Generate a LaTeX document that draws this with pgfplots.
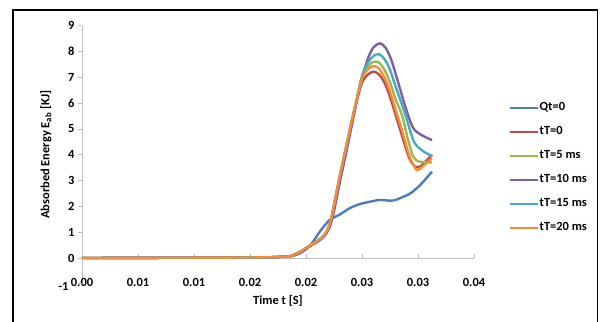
\documentclass[border=0pt]{standalone}
\usepackage{pgfplots}
\pgfplotsset{compat=1.18}
\usepackage{fontspec}
\setmainfont{Carlito}

\definecolor{cQ}{HTML}{4A7EBB}
\definecolor{cR}{HTML}{BE4B48}
\definecolor{cG}{HTML}{98B954}
\definecolor{cP}{HTML}{7D60A0}
\definecolor{cC}{HTML}{46AAC5}
\definecolor{cO}{HTML}{F68C36}
\definecolor{axgray}{HTML}{BFBFBF}

\begin{document}
\begin{tikzpicture}
\useasboundingbox (-82bp,-38.2bp) rectangle (521bp,283.8bp);
\begin{scope}
  \clip (-82bp,-38.2bp) rectangle (521bp,283.8bp);
  \draw[line width=1.5bp] (-69bp,-60bp) rectangle (515.7bp,273.8bp);
\end{scope}
\begin{axis}[
  at={(0,0)}, anchor=south west,
  scale only axis, width=392bp, height=258bp,
  xmin=0, xmax=0.035, ymin=-1, ymax=9,
  axis x line=middle, axis y line=left,
  hide obscured x ticks=false, hide obscured y ticks=false,
  axis line style={-, draw=axgray, line width=0.8bp},
  tick style={draw=axgray, line width=0.8bp},
  tick align=outside, major tick length=4bp,
  x tick style={yshift=4bp},
  scaled x ticks=false,
  xtick={0,0.005,0.01,0.015,0.02,0.025,0.03,0.035},
  xticklabels={0.00,0.01,0.01,0.02,0.02,0.03,0.03,0.04},
  ytick={0,1,2,3,4,5,6,7,8,9},
  yticklabels={0,1,2,3,4,5,6,7,8,9},
  extra y ticks={-1},
  extra y tick labels={-1},
  extra y tick style={yticklabel style={xshift=-6bp, yshift=-3bp}},
  tick label style={font=\bfseries\fontsize{12.5}{14}\selectfont},
  xticklabel style={yshift=-13bp},
  xlabel={Time t [S]},
  ylabel={Absorbed Energy E\textsubscript{ab} [KJ]},
  label style={font=\bfseries\fontsize{12.5}{14}\selectfont},
  xlabel style={at={(axis description cs:0.5,-0.066)}, anchor=center},
  ylabel style={at={(axis description cs:-0.092,0.5)}, anchor=center, rotate=0},
  every axis plot/.append style={line width=2.4bp, smooth, tension=0.5, no markers},
  legend style={at={(axis description cs:1.087,0.449)}, anchor=west,
    draw=none, fill=none, inner sep=0pt, row sep=10bp,
    font=\bfseries\fontsize{12.5}{14}\selectfont,
    nodes={inner sep=1bp, text height=9bp, text depth=3bp}},
  legend cell align=left,
  legend image code/.code={\draw[#1] (0bp,0bp) -- (28bp,0bp);},
  clip=false,
]
% Qt=0
\addplot[cQ] coordinates {
 (0,0) (0.015,0.02) (0.0180,0.05) (0.0186,0.06) (0.0195,0.19) (0.0204,0.5)
 (0.0212,1.0) (0.0221,1.47) (0.0230,1.68) (0.0239,1.93) (0.0248,2.09)
 (0.0257,2.18) (0.0266,2.25) (0.0275,2.22) (0.0280,2.25) (0.0284,2.32)
 (0.0293,2.5) (0.0302,2.83) (0.03125,3.35)};
% tT=0
\addplot[cR] coordinates {
 (0,0) (0.015,0.02) (0.0180,0.05) (0.0186,0.07) (0.0195,0.23) (0.0204,0.47)
 (0.0212,0.68) (0.0218,0.95) (0.0222,1.4) (0.02259,2.2) (0.0230,3.1)
 (0.0235,4.1) (0.0240,5.1) (0.0245,6.05) (0.0250,6.8) (0.0255,7.1)
 (0.0260,7.22) (0.0265,7.12) (0.0270,6.8) (0.0275,6.25) (0.0280,5.55)
 (0.0286,4.7) (0.0292,3.9) (0.0297,3.55) (0.0302,3.55) (0.0307,3.75)
 (0.03125,4.0)};
% tT=5 ms
\addplot[cG] coordinates {
 (0,0) (0.015,0.02) (0.0180,0.05) (0.0186,0.07) (0.0195,0.25) (0.0204,0.5)
 (0.0212,0.72) (0.0218,1.0) (0.0222,1.45) (0.02259,2.25) (0.0230,3.15)
 (0.0235,4.15) (0.0240,5.15) (0.0245,6.1) (0.0250,7.0) (0.0255,7.42)
 (0.0260,7.6) (0.0265,7.58) (0.0270,7.3) (0.0275,6.8) (0.0280,6.15)
 (0.0286,5.5) (0.0291,4.6) (0.02955,3.95) (0.0300,3.75) (0.0305,3.72)
 (0.03125,3.7)};
% tT=10 ms
\addplot[cP] coordinates {
 (0,0) (0.015,0.02) (0.0180,0.05) (0.0186,0.07) (0.0195,0.24) (0.0204,0.48)
 (0.0212,0.7) (0.0218,0.95) (0.0222,1.3) (0.02259,2.0) (0.0230,2.9)
 (0.0235,3.9) (0.0240,4.95) (0.0245,6.0) (0.0250,6.95) (0.0255,7.7)
 (0.0260,8.15) (0.0266,8.32) (0.0271,8.15) (0.0276,7.7) (0.0281,7.0)
 (0.0286,6.25) (0.0291,5.55) (0.02955,5.05) (0.0300,4.85) (0.0306,4.7)
 (0.03125,4.57)};
% tT=15 ms
\addplot[cC] coordinates {
 (0,0) (0.015,0.02) (0.0180,0.05) (0.0186,0.07) (0.0195,0.25) (0.0204,0.5)
 (0.0212,0.72) (0.0218,1.0) (0.0222,1.45) (0.02259,2.25) (0.0230,3.15)
 (0.0235,4.15) (0.0240,5.15) (0.0245,6.1) (0.0250,7.05) (0.0255,7.55)
 (0.0260,7.82) (0.0265,7.9) (0.0270,7.72) (0.0275,7.3) (0.0280,6.65)
 (0.0288,5.65) (0.02955,4.6) (0.0300,4.3) (0.0306,4.1) (0.03125,3.95)};
% tT=20 ms
\addplot[cO] coordinates {
 (0,0) (0.015,0.02) (0.0180,0.05) (0.0186,0.07) (0.0195,0.25) (0.0204,0.5)
 (0.0212,0.72) (0.0218,1.0) (0.0222,1.45) (0.02259,2.25) (0.0230,3.15)
 (0.0235,4.15) (0.0240,5.15) (0.0245,6.1) (0.0250,6.95) (0.0255,7.3)
 (0.0260,7.44) (0.0265,7.35) (0.0270,7.0) (0.0275,6.45) (0.0280,5.75)
 (0.0286,4.9) (0.0292,4.0) (0.0296,3.6) (0.0299,3.41) (0.0303,3.5)
 (0.0308,3.7) (0.03125,3.87)};
\legend{Qt=0, tT=0, tT=5 ms, tT=10 ms, tT=15 ms, tT=20 ms}
\end{axis}
\end{tikzpicture}
\end{document}
